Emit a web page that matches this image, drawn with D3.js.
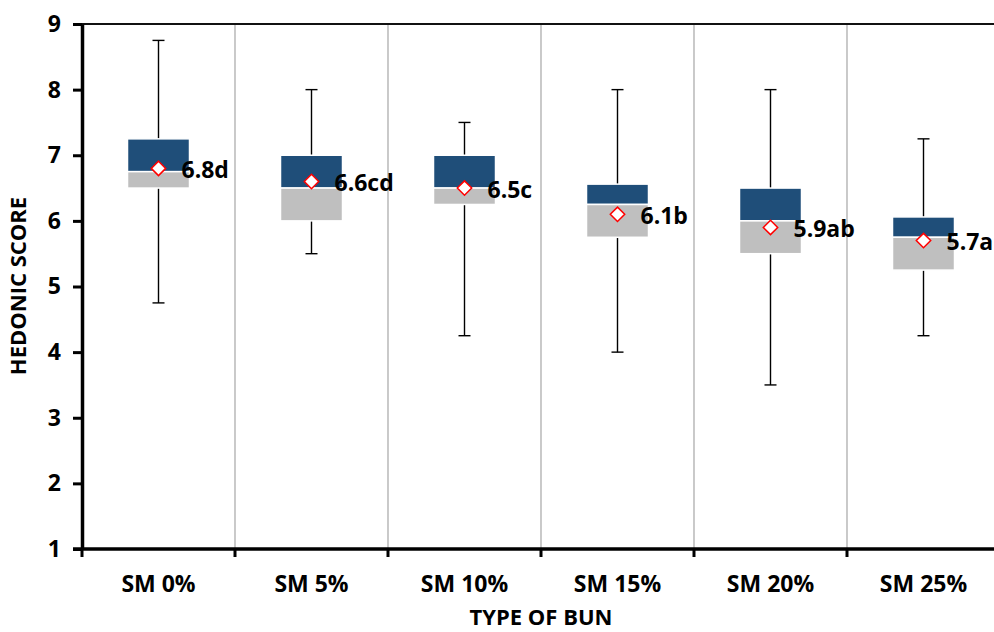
<!DOCTYPE html>
<html>
<head>
<meta charset="utf-8">
<script src="https://cdn.jsdelivr.net/npm/d3@7"></script>
<style>
  html, body { margin: 0; padding: 0; background: #fff; }
  svg { display: block; }
  text { font-family: "Open Sans", "Noto Sans", sans-serif; font-weight: bold; fill: #000; }
</style>
</head>
<body>
<svg id="chart" width="994" height="632"></svg>
<script>
// Hedonic score distribution per bun formulation
const categories = ["SM 0%", "SM 5%", "SM 10%", "SM 15%", "SM 20%", "SM 25%"];
const minVals    = [4.75, 5.5, 4.25, 4.0, 3.5, 4.25];
const q1Vals     = [6.5, 6.0, 6.25, 5.75, 5.5, 5.25];
const medianVals = [6.75, 6.5, 6.5, 6.25, 6.0, 5.75];
const q3Vals     = [7.25, 7.0, 7.0, 6.56, 6.5, 6.06];
const maxVals    = [8.75, 8.0, 7.5, 8.0, 8.0, 7.25];
const meanVals   = [6.8, 6.6, 6.5, 6.1, 5.9, 5.7];
const meanLabels = ["6.8d", "6.6cd", "6.5c", "6.1b", "5.9ab", "5.7a"];
const yTicks     = [1, 2, 3, 4, 5, 6, 7, 8, 9];

const svg = d3.select("#chart");
const plotLeft = 82, plotRight = 1000, plotTop = 24, plotBottom = 549;
const fs = 23;

const x = d3.scaleBand().domain(categories).range([plotLeft, plotRight]).padding(0);
const y = d3.scaleLinear().domain([1, 9]).range([plotBottom, plotTop]);

const boxW = 62;
const capW = 12;

// vertical separators between categories
svg.append("g")
  .selectAll("line")
  .data(categories.slice(1))
  .join("line")
  .attr("x1", d => x(d)).attr("x2", d => x(d))
  .attr("y1", y(9)).attr("y2", y(1))
  .attr("stroke", "#a6a6a6").attr("stroke-width", 1.2);

// top border at the upper limit
svg.append("line")
  .attr("x1", plotLeft).attr("x2", plotRight)
  .attr("y1", y(9)).attr("y2", y(9))
  .attr("stroke", "#111").attr("stroke-width", 2);

const data = categories.map((c, i) => ({
  c, min: minVals[i], q1: q1Vals[i], med: medianVals[i], q3: q3Vals[i],
  max: maxVals[i], mean: meanVals[i], label: meanLabels[i]
}));

const g = svg.append("g")
  .selectAll("g")
  .data(data)
  .join("g")
  .attr("transform", d => `translate(${x(d.c) + x.bandwidth() / 2},0)`);

// whiskers
g.append("line")
  .attr("x1", 0).attr("x2", 0)
  .attr("y1", d => y(d.max)).attr("y2", d => y(d.min))
  .attr("stroke", "#000").attr("stroke-width", 1.4);
g.append("line")
  .attr("x1", -capW / 2).attr("x2", capW / 2)
  .attr("y1", d => y(d.max)).attr("y2", d => y(d.max))
  .attr("stroke", "#000").attr("stroke-width", 1.4);
g.append("line")
  .attr("x1", -capW / 2).attr("x2", capW / 2)
  .attr("y1", d => y(d.min)).attr("y2", d => y(d.min))
  .attr("stroke", "#000").attr("stroke-width", 1.4);

// upper box (median to Q3)
g.append("rect")
  .attr("x", -boxW / 2).attr("width", boxW)
  .attr("y", d => y(d.q3))
  .attr("height", d => y(d.med) - y(d.q3))
  .attr("fill", "#1f4e79")
  .attr("stroke", "#fff").attr("stroke-width", 1.5);

// lower box (Q1 to median)
g.append("rect")
  .attr("x", -boxW / 2).attr("width", boxW)
  .attr("y", d => y(d.med))
  .attr("height", d => y(d.q1) - y(d.med))
  .attr("fill", "#bfbfbf")
  .attr("stroke", "#fff").attr("stroke-width", 1.5);

// mean markers
const r = 7.2;
g.append("path")
  .attr("d", d => {
    const cy = y(d.mean);
    return `M0,${cy - r}L${r},${cy}L0,${cy + r}L${-r},${cy}Z`;
  })
  .attr("fill", "#fff").attr("stroke", "#ff0000").attr("stroke-width", 1.5);

// mean labels
g.append("text")
  .attr("x", 23)
  .attr("y", d => y(d.mean))
  .attr("dy", "0.42em")
  .attr("font-size", fs)
  .text(d => d.label);

// y axis
const yAxis = d3.axisLeft(y).tickValues(yTicks).tickFormat(d3.format("d"))
  .tickSizeInner(9).tickSizeOuter(0).tickPadding(12);
const ya = svg.append("g").attr("transform", `translate(${plotLeft},0)`).call(yAxis);
ya.select(".domain").attr("stroke", "#000").attr("stroke-width", 3.5);
ya.selectAll(".tick line").attr("stroke", "#000").attr("stroke-width", 3);
ya.selectAll(".tick text").attr("font-size", fs).attr("font-family", null).attr("fill", "#000");

// x axis
const xa = svg.append("g").attr("transform", `translate(0,${plotBottom})`);
xa.append("line")
  .attr("x1", plotLeft - 9).attr("x2", plotRight)
  .attr("y1", 0).attr("y2", 0)
  .attr("stroke", "#000").attr("stroke-width", 3.5);
xa.selectAll("line.tk")
  .data(categories.map(c => x(c)).concat([x(categories[categories.length - 1]) + x.bandwidth()]))
  .join("line")
  .attr("class", "tk")
  .attr("x1", d => d).attr("x2", d => d)
  .attr("y1", 0).attr("y2", 8)
  .attr("stroke", "#000").attr("stroke-width", 3);
xa.selectAll("text")
  .data(categories)
  .join("text")
  .attr("x", d => x(d) + x.bandwidth() / 2)
  .attr("y", 43)
  .attr("text-anchor", "middle")
  .attr("font-size", fs)
  .text(d => d);

// axis titles
svg.append("text")
  .attr("x", 541).attr("y", 625)
  .attr("text-anchor", "middle")
  .attr("font-size", 22)
  .text("TYPE OF BUN");

svg.append("text")
  .attr("transform", "translate(26,286) rotate(-90)")
  .attr("text-anchor", "middle")
  .attr("font-size", 22)
  .text("HEDONIC SCORE");
</script>
</body>
</html>
